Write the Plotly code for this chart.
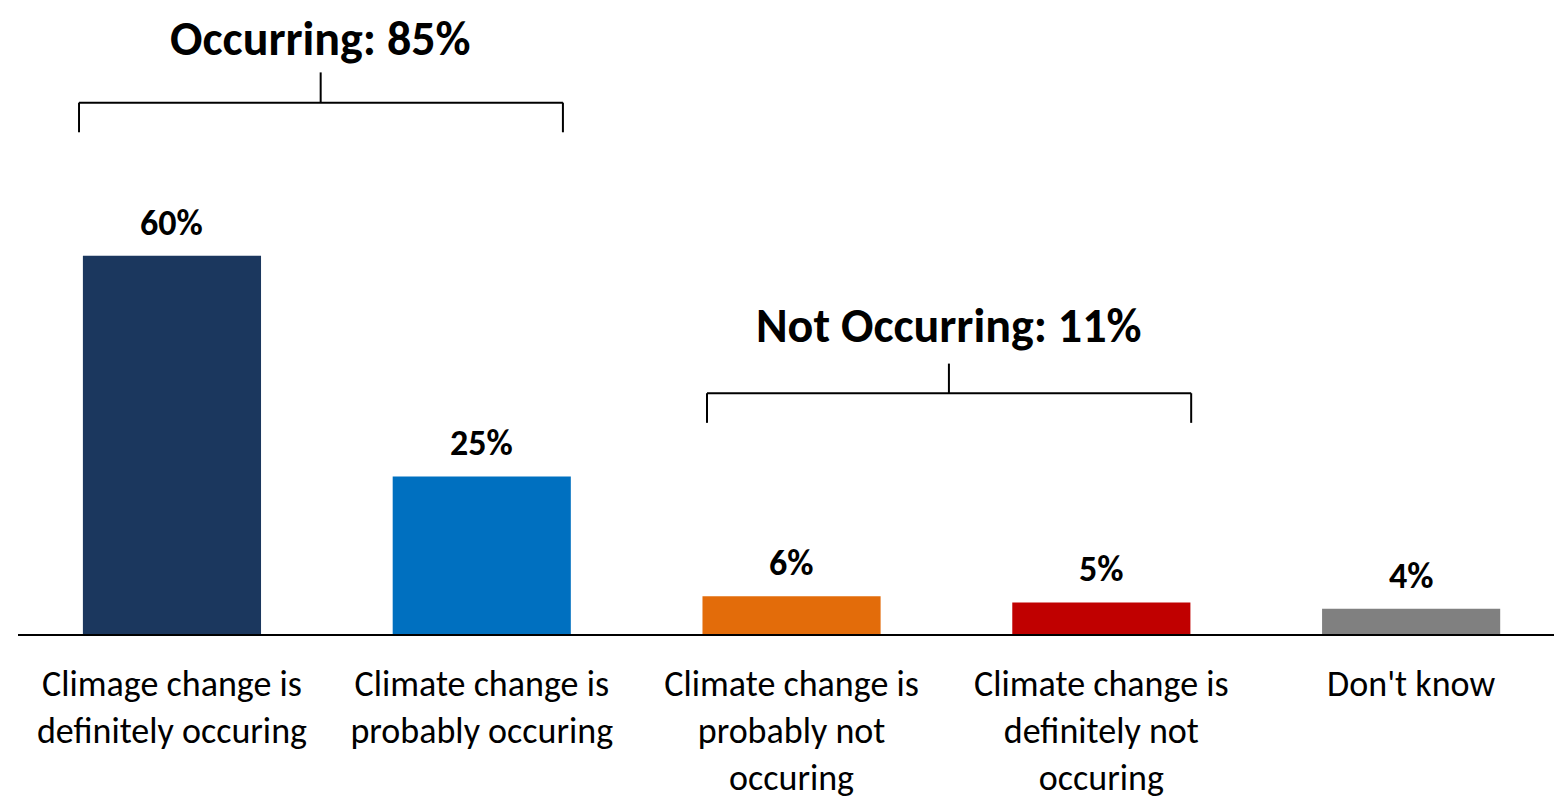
import plotly.graph_objects as go

categories = [
    "Climage change is<br>definitely occuring",
    "Climate change is<br>probably occuring",
    "Climate change is<br>probably not<br>occuring",
    "Climate change is<br>definitely not<br>occuring",
    "Don't know",
]
values = [60, 25, 6, 5, 4]
bar_colors = ["#1B375E", "#0070C0", "#E36C0A", "#C00000", "#808080"]

group_titles = ["Occurring: 85%", "Not Occurring: 11%"]
# bracket spans in category units (left, centre, right) and heights in %
group_spans = [(-0.300, 0.480, 1.262), (1.727, 2.508, 3.290)]
group_levels = [(79.6, 84.3, 89.1, 94.5), (33.5, 38.2, 42.9, 48.9)]

FONT = "Calibri, Carlito, Lato, sans-serif"

fig = go.Figure()
fig.add_trace(
    go.Bar(
        x=list(range(len(categories))),
        y=values,
        marker=dict(color=bar_colors, line=dict(width=0)),
        hoverinfo="skip",
    )
)

# value labels above bars
for i, v in enumerate(values):
    fig.add_annotation(
        x=i, y=v, text=f"<b>{v}%</b>", showarrow=False,
        yanchor="bottom", yshift=9,
        font=dict(family=FONT, size=36, color="black"),
    )

# group brackets
line = dict(color="black", width=2)
for title, (x0, xc, x1), (yb, yh, yt, ytxt) in zip(group_titles, group_spans, group_levels):
    fig.add_shape(type="line", x0=x0, x1=x1, y0=yh, y1=yh, line=line)
    fig.add_shape(type="line", x0=x0, x1=x0, y0=yb, y1=yh, line=line)
    fig.add_shape(type="line", x0=x1, x1=x1, y0=yb, y1=yh, line=line)
    fig.add_shape(type="line", x0=xc, x1=xc, y0=yh, y1=yt, line=line)
    fig.add_annotation(
        x=xc, y=ytxt, text=f"<b>{title}</b>", showarrow=False,
        yanchor="middle",
        font=dict(family=FONT, size=48, color="black"),
    )

fig.update_layout(
    width=1554,
    height=792,
    plot_bgcolor="white",
    paper_bgcolor="white",
    showlegend=False,
    bargap=0.425,
    margin=dict(l=10, r=0, t=2, b=163),
    xaxis=dict(
        range=[-0.497, 4.487],
        tickmode="array",
        tickvals=list(range(len(categories))),
        ticktext=categories,
        showgrid=False,
        zeroline=False,
        showline=True,
        linecolor="black",
        linewidth=2,
        ticks="",
        ticklabelstandoff=17,
        tickfont=dict(family=FONT, size=36, color="black"),
    ),
    yaxis=dict(
        range=[0, 99],
        showgrid=False,
        zeroline=False,
        showticklabels=False,
        showline=False,
    ),
)

fig.write_html("out.html")
